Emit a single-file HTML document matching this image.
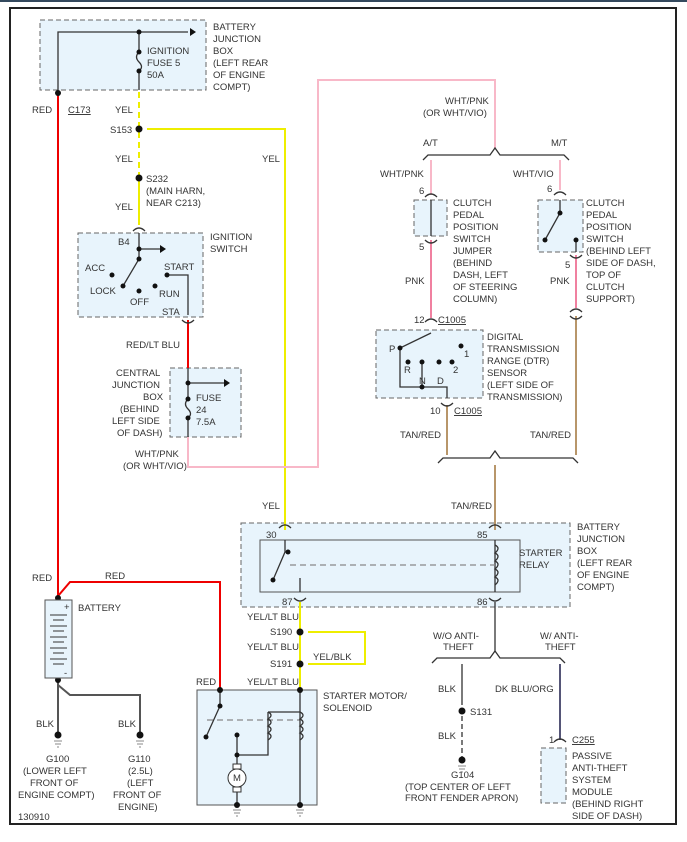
<!DOCTYPE html>
<html><head><meta charset="utf-8"><style>
body{margin:0;background:#fff}
svg{display:block}
text{font-family:"Liberation Sans",sans-serif;font-size:9.5px;fill:#333}
</style></head><body>
<svg width="687" height="842" viewBox="0 0 687 842">
<rect x="0" y="0" width="687" height="2" fill="#34495e"/>
<rect x="10" y="8" width="666" height="816" fill="none" stroke="#222" stroke-width="2"/>
<g fill="#e8f4fc" stroke="#666" stroke-dasharray="5,3">
<rect x="40" y="20" width="166" height="70"/>
<rect x="78" y="233" width="125" height="84"/>
<rect x="170" y="368" width="71" height="69"/>
<rect x="414" y="200" width="33" height="36"/>
<rect x="538" y="200" width="45" height="52"/>
<rect x="376" y="330" width="107" height="68"/>
<rect x="241" y="523" width="329" height="84"/>
<rect x="541" y="748" width="25" height="55"/>
</g>
<rect x="260" y="540" width="260" height="52" fill="#e8f4fc" stroke="#555"/>
<rect x="197" y="690" width="120" height="115" fill="#e8f4fc" stroke="#555"/>
<g fill="none" stroke-width="2">
<path d="M58 93V596L70 582H220V690" stroke="#e00"/>
<path d="M139 92V225" stroke="#ee0" stroke-dasharray="6,4"/>
<path d="M147 129H285V530" stroke="#ee0"/>
<path d="M139 178V225" stroke="#ee0"/>
<path d="M188 320V368" stroke="#e00"/>
<path d="M188 437V467H318V80H495V148" stroke="#f8b8c8"/>
<path d="M431 160V195M560 160V190" stroke="#f8b8c8"/>
<path d="M431 240V318M576 255V308" stroke="#f080a0"/>
<path d="M447 405V455M576 316V455M495 465V530" stroke="#b8966a"/>
<path d="M300 602V690M308 632H365V664H308" stroke="#ee0"/>
<path d="M560 664V740" stroke="#557"/>
</g>
<g fill="none" stroke="#333" stroke-width="1.3">
<path d="M58 93V32H188M139 32V52M139 71V90M139 52q-5 5 0 10q5 5 0 9"/>
<path d="M139 233V259L123 286M139 249H160M167 275H188V315"/>
<path d="M188 368V399M188 418V437M188 383H224M188 399q-5 5 0 10q5 5 0 9"/>
<path d="M431 200V236M560 200V213L545 240M576 240V252"/>
<path d="M431 333L400 348V387H447V398M422 362V387"/>
<path d="M285 540V552L273 580M300 578V592M495 540V592"/>
<path d="M290 565H495M207 720H300" stroke-dasharray="6,4" stroke="#888"/>
<path d="M220 690V706L206 737M268 712H300M268 712V745V755H237M237 735V770M300 690V805M237 787V805"/>
<path d="M495 602V652M462 664V700"/>
<path d="M462 700V760" stroke-dasharray="5,3"/>
<path d="M58 680V735M58 685L70 695H140V735" stroke="#555" stroke-width="2"/>
<path d="M423 160l5 -5h62l5 -7l5 7h64l5 5M438 463l5 -5h47l5 -7l5 7h73l5 5M432 663l5 -5h53l5 -7l5 7h60l5 5"/>
<path d="M268 712q6 3 0 7q6 3 0 7q6 3 0 7q6 3 0 7M300 712q6 3 0 7q6 3 0 7q6 3 0 7q6 3 0 7M495 545q6 3 0 8q6 3 0 8q6 3 0 8q6 3 0 8q6 3 0 8"/>
<path d="M133 231q6-6 12 0M182 320q6 6 12 0M425 197q6-6 12 0M425 240q6 6 12 0M554 195q6-6 12 0M570 255q6 6 12 0M570 312q6-6 12 0M570 316q6 6 12 0M425 322q6-6 12 0M441 403q6 6 12 0M279 528q6-6 12 0M489 528q6-6 12 0M294 598q6 6 12 0M489 598q6 6 12 0M554 742q6-6 12 0"/>
</g>
<g fill="#111">
<circle cx="58" cy="93" r="3"/><circle cx="139" cy="32" r="2.5"/><circle cx="139" cy="52" r="2.5"/><circle cx="139" cy="71" r="2.5"/>
<circle cx="139" cy="129" r="3.5"/><circle cx="139" cy="178" r="3.5"/>
<circle cx="139" cy="249" r="2.5"/><circle cx="139" cy="259" r="2.5"/><circle cx="112" cy="275" r="2.5"/><circle cx="123" cy="286" r="2.5"/><circle cx="139" cy="291" r="2.5"/><circle cx="155" cy="286" r="2.5"/><circle cx="167" cy="275" r="2.5"/>
<circle cx="188" cy="383" r="2.5"/><circle cx="188" cy="399" r="2.5"/><circle cx="188" cy="418" r="2.5"/>
<circle cx="560" cy="213" r="2.5"/><circle cx="545" cy="240" r="2.5"/><circle cx="576" cy="240" r="2.5"/>
<circle cx="400" cy="348" r="2.5"/><circle cx="461" cy="346" r="2.5"/><circle cx="408" cy="362" r="2.5"/><circle cx="422" cy="362" r="2.5"/><circle cx="439" cy="362" r="2.5"/><circle cx="452" cy="362" r="2.5"/><circle cx="422" cy="387" r="2.5"/>
<circle cx="288" cy="552" r="2.5"/><circle cx="273" cy="580" r="2.5"/>
<circle cx="300" cy="632" r="3.5"/><circle cx="300" cy="664" r="3.5"/>
<circle cx="220" cy="690" r="3"/><circle cx="300" cy="690" r="3"/><circle cx="220" cy="706" r="2.5"/><circle cx="206" cy="737" r="2.5"/><circle cx="237" cy="735" r="2.5"/><circle cx="237" cy="755" r="2.5"/><circle cx="237" cy="805" r="3"/><circle cx="300" cy="805" r="3"/>
<circle cx="58" cy="598" r="3"/><circle cx="58" cy="680" r="3"/>
<circle cx="462" cy="711" r="3.5"/><circle cx="462" cy="760" r="3.5"/><circle cx="58" cy="735" r="3.5"/><circle cx="140" cy="735" r="3.5"/>
<path d="M190 28l6 4l-6 4zM160 245l6 4l-6 4zM224 379l6 4l-6 4z"/>
</g>
<rect x="45" y="600" width="27" height="78" fill="#e8f4fc" stroke="#555"/>
<g stroke="#333"><path d="M50 615h17M53 620h11M50 626h17M53 631h11M50 637h17M53 642h11M50 648h17M53 653h11M50 659h17M53 664h11"/></g>
<text x="64" y="610" font-size="8">+</text><text x="64" y="676" font-size="8">-</text>
<circle cx="237" cy="778" r="9" fill="#fff" stroke="#333"/><rect x="233" y="764" width="8" height="5" fill="#fff" stroke="#333"/><rect x="233" y="787" width="8" height="5" fill="#fff" stroke="#333"/>
<text x="233" y="781" font-size="8">M</text>
<g stroke="#888"><path d="M233 810h8M234 813h6M236 816h2M296 810h8M297 813h6M299 816h2M54 741h8M55 744h6M57 747h2M136 741h8M137 744h6M139 747h2M458 766h8M459 769h6M461 772h2"/></g>
<text x="213" y="30">BATTERY</text><text x="213" y="42">JUNCTION</text><text x="213" y="54">BOX</text><text x="213" y="66">(LEFT REAR</text><text x="213" y="78">OF ENGINE</text><text x="213" y="90">COMPT)</text>
<text x="147" y="54">IGNITION</text><text x="147" y="66">FUSE 5</text><text x="147" y="78">50A</text>
<text x="32" y="113">RED</text><text x="68" y="113" text-decoration="underline">C173</text><text x="115" y="113">YEL</text>
<text x="110" y="133">S153</text><text x="115" y="162">YEL</text><text x="262" y="162">YEL</text>
<text x="146" y="182">S232</text><text x="146" y="194">(MAIN HARN,</text><text x="146" y="206">NEAR C213)</text><text x="115" y="210">YEL</text>
<text x="210" y="240">IGNITION</text><text x="210" y="252">SWITCH</text>
<text x="118" y="245">B4</text><text x="85" y="271">ACC</text><text x="90" y="294">LOCK</text><text x="130" y="305">OFF</text><text x="164" y="270">START</text><text x="159" y="297">RUN</text><text x="162" y="315">STA</text>
<text x="126" y="348">RED/LT BLU</text>
<text x="116" y="376">CENTRAL</text><text x="112" y="388">JUNCTION</text><text x="143" y="400">BOX</text><text x="120" y="412">(BEHIND</text><text x="112" y="424">LEFT SIDE</text><text x="117" y="436">OF DASH)</text>
<text x="196" y="401">FUSE</text><text x="196" y="413">24</text><text x="196" y="425">7.5A</text>
<text x="135" y="457">WHT/PNK</text><text x="123" y="469">(OR WHT/VIO)</text>
<text x="445" y="104">WHT/PNK</text><text x="423" y="116">(OR WHT/VIO)</text>
<text x="423" y="146">A/T</text><text x="551" y="146">M/T</text>
<text x="380" y="177">WHT/PNK</text><text x="513" y="177">WHT/VIO</text>
<text x="419" y="194">6</text><text x="547" y="192">6</text><text x="419" y="250">5</text><text x="565" y="268">5</text>
<text x="453" y="206">CLUTCH</text><text x="453" y="218">PEDAL</text><text x="453" y="230">POSITION</text><text x="453" y="242">SWITCH</text><text x="453" y="254">JUMPER</text><text x="453" y="266">(BEHIND</text><text x="453" y="278">DASH, LEFT</text><text x="453" y="290">OF STEERING</text><text x="453" y="302">COLUMN)</text>
<text x="586" y="206">CLUTCH</text><text x="586" y="218">PEDAL</text><text x="586" y="230">POSITION</text><text x="586" y="242">SWITCH</text><text x="586" y="254">(BEHIND LEFT</text><text x="586" y="266">SIDE OF DASH,</text><text x="586" y="278">TOP OF</text><text x="586" y="290">CLUTCH</text><text x="586" y="302">SUPPORT)</text>
<text x="405" y="284">PNK</text><text x="550" y="284">PNK</text>
<text x="414" y="323">12</text><text x="438" y="323" text-decoration="underline">C1005</text>
<text x="487" y="340">DIGITAL</text><text x="487" y="352">TRANSMISSION</text><text x="487" y="364">RANGE (DTR)</text><text x="487" y="376">SENSOR</text><text x="487" y="388">(LEFT SIDE OF</text><text x="487" y="400">TRANSMISSION)</text>
<text x="389" y="352">P</text><text x="464" y="357">1</text><text x="404" y="373">R</text><text x="419" y="384">N</text><text x="437" y="384">D</text><text x="453" y="373">2</text>
<text x="430" y="414">10</text><text x="454" y="414" text-decoration="underline">C1005</text>
<text x="400" y="438">TAN/RED</text><text x="530" y="438">TAN/RED</text><text x="451" y="509">TAN/RED</text><text x="262" y="509">YEL</text>
<text x="266" y="538">30</text><text x="477" y="538">85</text><text x="282" y="605">87</text><text x="477" y="605">86</text>
<text x="519" y="556">STARTER</text><text x="519" y="568">RELAY</text>
<text x="577" y="530">BATTERY</text><text x="577" y="542">JUNCTION</text><text x="577" y="554">BOX</text><text x="577" y="566">(LEFT REAR</text><text x="577" y="578">OF ENGINE</text><text x="577" y="590">COMPT)</text>
<text x="32" y="581">RED</text><text x="105" y="579">RED</text><text x="78" y="611">BATTERY</text>
<text x="247" y="620">YEL/LT BLU</text><text x="270" y="635">S190</text><text x="247" y="650">YEL/LT BLU</text><text x="270" y="667">S191</text><text x="313" y="660">YEL/BLK</text><text x="247" y="685">YEL/LT BLU</text><text x="196" y="685">RED</text>
<text x="323" y="699">STARTER MOTOR/</text><text x="323" y="711">SOLENOID</text>
<text x="433" y="639">W/O ANTI-</text><text x="443" y="650">THEFT</text><text x="540" y="639">W/ ANTI-</text><text x="545" y="650">THEFT</text>
<text x="438" y="692">BLK</text><text x="495" y="692">DK BLU/ORG</text><text x="470" y="715">S131</text><text x="438" y="739">BLK</text>
<text x="451" y="778">G104</text><text x="405" y="790">(TOP CENTER OF LEFT</text><text x="405" y="801">FRONT FENDER APRON)</text>
<text x="549" y="743">1</text><text x="572" y="743" text-decoration="underline">C255</text>
<text x="572" y="759">PASSIVE</text><text x="572" y="771">ANTI-THEFT</text><text x="572" y="783">SYSTEM</text><text x="572" y="795">MODULE</text><text x="572" y="807">(BEHIND RIGHT</text><text x="572" y="819">SIDE OF DASH)</text>
<text x="36" y="727">BLK</text><text x="118" y="727">BLK</text>
<text x="46" y="762">G100</text><text x="23" y="774">(LOWER LEFT</text><text x="30" y="786">FRONT OF</text><text x="18" y="798">ENGINE COMPT)</text>
<text x="128" y="762">G110</text><text x="128" y="774">(2.5L)</text><text x="127" y="786">(LEFT</text><text x="113" y="798">FRONT OF</text><text x="118" y="810">ENGINE)</text>
<text x="18" y="820">130910</text>
</svg>
</body></html>
